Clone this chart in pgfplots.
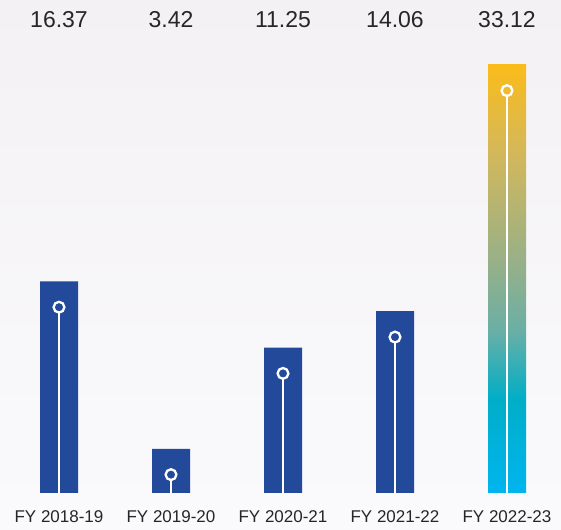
\documentclass[border=0pt]{standalone}
\usepackage{fontspec}
\setmainfont{Liberation Sans}
\usepackage{pgfplots}
\pgfplotsset{compat=1.18}
\definecolor{barblue}{HTML}{23499B}
\definecolor{txt}{HTML}{262626}
\definecolor{bgtop}{HTML}{F4F1F4}
\definecolor{bgbot}{HTML}{FAFAFC}
\definecolor{g0}{HTML}{00B5F0}
\definecolor{g1}{HTML}{00AEC8}
\definecolor{g2}{HTML}{6AAFA5}
\definecolor{g3}{HTML}{98B088}
\definecolor{g4}{HTML}{D4B85A}
\definecolor{g5}{HTML}{FBBC1A}
\pgfdeclareverticalshading{fyshade}{100bp}{color(0bp)=(g0); color(25bp)=(g0); color(36bp)=(g1); color(44bp)=(g2); color(52bp)=(g3); color(65bp)=(g4); color(75bp)=(g5); color(100bp)=(g5)}
\begin{document}
\begin{tikzpicture}
\shade[top color=bgtop, bottom color=bgbot] (0,0) rectangle (561pt,529pt);
\begin{axis}[
  at={(3pt,36pt)}, anchor=south west,
  scale only axis,
  width=560pt, height=478.4pt,
  xmin=-0.5, xmax=4.5, ymin=0, ymax=37,
  axis line style={draw=none},
  major tick length=0pt,
  ytick=\empty,
  xtick={0,1,2,3,4},
  xticklabels={FY 2018-19, FY 2019-20, FY 2020-21, FY 2021-22, FY 2022-23},
  xticklabel style={anchor=center, yshift=-23.7pt, font=\fontsize{17}{20}\selectfont, text=txt},
  clip=false,
]
% blue bars
\addplot[ybar, bar width=38pt, bar shift=0pt, draw=none, fill=barblue]
  coordinates {(0,16.37) (1,3.42) (2,11.25) (3,14.06)};
% gradient bar
\addplot[ybar, bar width=38pt, bar shift=0pt, draw=none, shading=fyshade]
  coordinates {(4,33.12)};
% white stems
\addplot[ycomb, white, line width=2pt, mark=none]
  coordinates {(0,13.91) (1,0.96) (2,8.79) (3,11.60) (4,30.66)};
% circles
\addplot[only marks, mark=o, mark size=5.4pt, white, line width=2.3pt]
  coordinates {(0,14.37) (1,1.42) (2,9.25) (3,12.06) (4,31.12)};
% top value labels
\addplot[draw=none, mark=none, nodes near coords, point meta=explicit symbolic,
  every node near coord/.append style={anchor=center, font=\fontsize{23}{26}\selectfont, text=txt}]
  coordinates {(0,36.58)[16.37] (1,36.58)[3.42] (2,36.58)[11.25] (3,36.58)[14.06] (4,36.58)[33.12]};
\end{axis}
\pgfresetboundingbox
\path (0,0) rectangle (561pt,529pt);
\end{tikzpicture}
\end{document}
